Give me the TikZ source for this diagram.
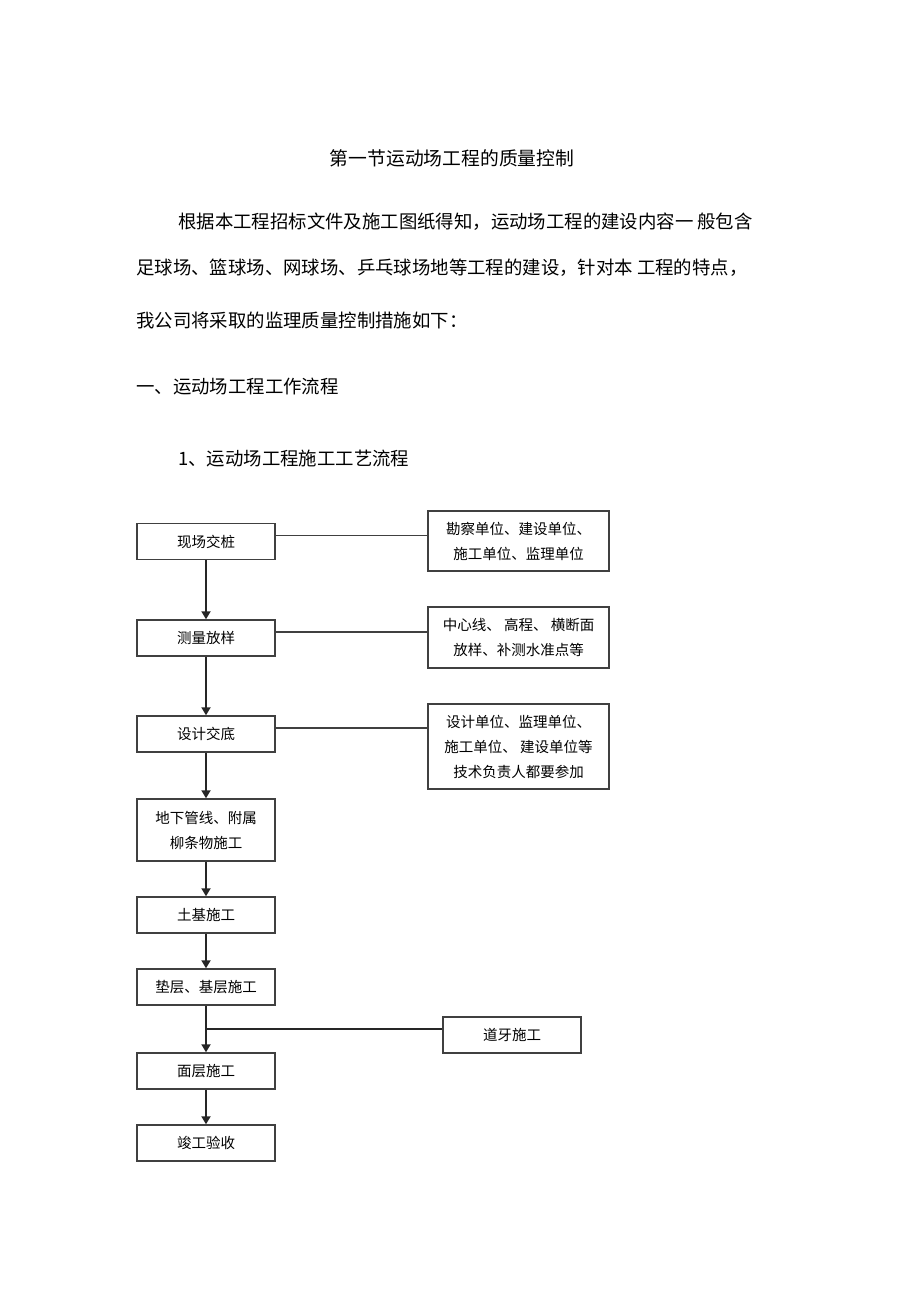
\documentclass[tikz,border=0pt]{standalone}
\usepackage{fontspec}
\setmainfont{Noto Sans CJK SC}
\usetikzlibrary{arrows.meta}
\tikzset{
	stepbox/.style={draw=black!75, line width=1.4pt, minimum width=138pt, minimum height=36pt, inner sep=0pt, align=center, font=\fontsize{14.5}{25}\selectfont},
	notebox/.style={stepbox, minimum width=181pt},
	flow/.style={line width=1.8pt, color=black!85, -{Triangle[length=8pt,width=9pt]}},
	link/.style={line width=1.4pt, color=black!75},
	bodytext/.style={anchor=west, inner sep=0pt, font=\fontsize{18.4}{22}\selectfont}
}
\begin{document}
\begin{tikzpicture}[x=1pt, y=-1pt]
		%%%%% START %%%%%
		\useasboundingbox (0, 0) rectangle (920, 1303);
		
		\node[bodytext, anchor=center, font=\fontsize{18.8}{22}\selectfont] (title) at (452, 158) {第一节运动场工程的质量控制};
		\node[bodytext] (para1) at (178, 222) {根据本工程招标文件及施工图纸得知，运动场工程的建设内容一 般包含};
		\node[bodytext] (para2) at (136, 268) {足球场、篮球场、网球场、乒乓球场地等工程的建设，针对本 工程的特点，};
		\node[bodytext] (para3) at (136, 320) {我公司将采取的监理质量控制措施如下：};
		\node[bodytext] (sec) at (136, 387) {一、运动场工程工作流程};
		\node[bodytext] (subsec) at (178, 459) {1、运动场工程施工工艺流程};
		
		%%%%% left column %%%%%
		\node[stepbox] (xc) at (206, 541.5) {现场交桩};
		\node[stepbox] (cl) at (206, 638) {测量放样};
		\node[stepbox] (sj) at (206, 734) {设计交底};
		\node[stepbox, minimum height=62pt] (dx) at (206, 830) {地下管线、附属\\柳条物施工};
		\node[stepbox] (tj) at (206, 915) {土基施工};
		\node[stepbox] (dc) at (206, 987) {垫层、基层施工};
		\node[stepbox] (mc) at (206, 1071) {面层施工};
		\node[stepbox] (jg) at (206, 1143) {竣工验收};
		
		%%%%% right column %%%%%
		\node[notebox, minimum height=60pt] (kc) at (518.5, 541) {勘察单位、建设单位、\\施工单位、监理单位};
		\node[notebox, minimum height=61pt] (zx) at (518.5, 637.5) {中心线、 高程、 横断面\\放样、补测水准点等};
		\node[notebox, minimum height=85pt] (fz) at (518.5, 746.5) {设计单位、监理单位、\\施工单位、 建设单位等\\技术负责人都要参加};
		\node[stepbox] (dy) at (512, 1035) {道牙施工};
		
		\draw[link] ([yshift=6pt]xc.east) -- ([yshift=6pt]xc.east -| kc.west);
		\draw[link] ([yshift=6pt]cl.east) -- ([yshift=6pt]cl.east -| zx.west);
		\draw[link] ([yshift=6pt]sj.east) -- ([yshift=6pt]sj.east -| fz.west);
		
		\draw[flow] (xc) -- (cl);
		\draw[flow] (cl) -- (sj);
		\draw[flow] (sj) -- (dx);
		\draw[flow] (dx) -- (tj);
		\draw[flow] (tj) -- (dc);
		\draw[flow] (dc) -- (mc);
		\draw[flow] (mc) -- (jg);
		
		\coordinate (j) at (206, 1029);
		\draw[line width=2pt, color=black!85] (j) -- (j -| dy.west);
		%%%%% END %%%%%
\end{tikzpicture}
\end{document}
